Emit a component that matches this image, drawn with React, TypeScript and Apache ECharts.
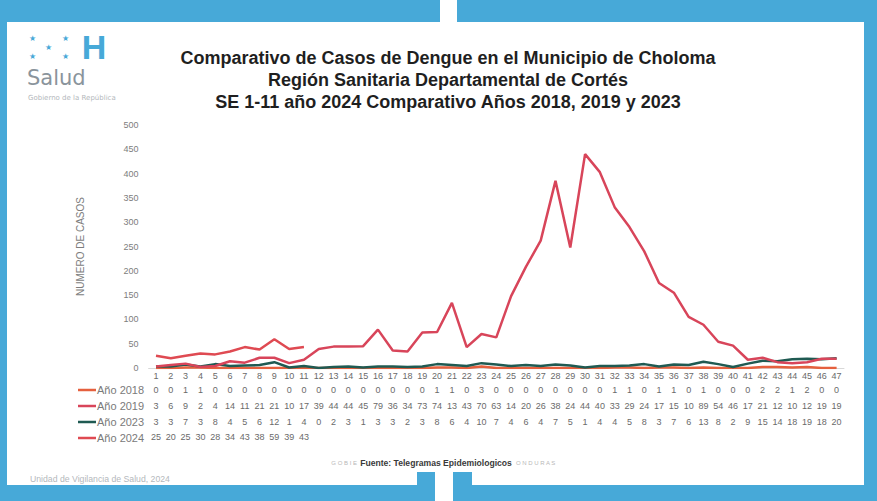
import React, { useEffect, useRef } from "react";
import * as echarts from "echarts";

const weeks = ["1","2","3","4","5","6","7","8","9","10","11","12","13","14","15","16","17","18","19","20","21","22","23","24","25","26","27","28","29","30","31","32","33","34","35","36","37","38","39","40","41","42","43","44","45","46","47"];
const seriesNames = ["Año 2018", "Año 2019", "Año 2023", "Año 2024"];
const y2018 = [0,0,1,1,0,0,0,0,0,0,0,0,0,0,0,0,0,0,0,1, 1,0,3,0,0,0,0,0,0,0,0,1,1,0,1,1,0,1,0,0,0,2,2,1,2,0,0];
const y2019 = [3,6,9,2,4,14,11,21,21,10,17,39,44,44,45,79,36,34,73,74, 134,43,70,63,148,208,262,385,248,440,403,331,290,240,175,155,105,89,54,46,17,21,12,10,12,19,19];
const y2023 = [3,3,7,3,8,4,5,6,12,1,4,0,2,3,1,3,3,2,3,8, 6,4,10,7,4,6,4,7,5,1,4,4,5,8,3,7,6,13,8,2,9,15,14,18,19,18,20];
const y2024 = [25,20,25,30,28,34,43,38,59,39,43,null,null,null,null,null,null,null,null,null,null,null,null,null,null,null,null,null,null,null,null,null,null,null,null,null,null,null,null,null,null,null,null,null,null,null,null];
const yTicks = { min: 0, max: 500, interval: 50 };
const titleLines = [
  "Comparativo de Casos de Dengue en el Municipio de Choloma",
  "Región Sanitaria Departamental de Cortés",
  "SE 1-11 año 2024 Comparativo Años 2018, 2019 y 2023",
];
const colors = ["#e5603e", "#d8455a", "#1f5a52", "#df4a52"];

const BLUE = "#47a9d8";
const GRAY = "#7a7a7a";

export default function App() {
  const ref = useRef<HTMLDivElement>(null);
  useEffect(() => {
    document.body.style.margin = "0";
    const chart = echarts.init(ref.current!, null, { renderer: "svg" });
    const allSeries = [y2018, y2019, y2023, y2024];
    const rowOffsets = [14, 30, 46, 61];
    const tableAxes = allSeries.map((arr, i) => ({
      type: "category",
      gridIndex: 0,
      position: "bottom",
      offset: rowOffsets[i],
      data: arr.map((v) => (v == null ? "" : String(v))),
      axisLine: { show: false },
      axisTick: { show: false },
      axisLabel: {
        interval: 0,
        fontSize: 9,
        color: "#6a6a6a",
        fontFamily: "Liberation Sans, Arial, sans-serif",
        margin: 3,
        overflow: "truncate",
        width: 13,
        ellipsis: "",
      },
    }));
    const star = (x: number, y: number) => ({
      type: "text", x, y,
      style: { text: "★", fontSize: 8, fill: BLUE, align: "center", verticalAlign: "middle" },
    });
    const option: any = {
      animation: false,
      backgroundColor: "#ffffff",
      grid: { left: 148.6, right: 33, top: 125, height: 243, containLabel: false },
      xAxis: [
        {
          type: "category",
          data: weeks,
          boundaryGap: true,
          axisLine: { show: true, lineStyle: { color: "#d8d8d8" } },
          axisTick: { show: false },
          axisLabel: {
            interval: 0,
            fontSize: 9,
            color: "#6a6a6a",
            fontFamily: "Liberation Sans, Arial, sans-serif",
            margin: 3,
          },
        },
        ...tableAxes,
      ],
      yAxis: {
        type: "value",
        min: yTicks.min,
        max: yTicks.max,
        interval: yTicks.interval,
        splitLine: { show: false },
        axisLine: { show: false },
        axisTick: { show: false },
        axisLabel: { fontSize: 9, color: "#7d7d7d", margin: 10, fontFamily: "Liberation Sans, Arial, sans-serif" },
        name: "NUMERO DE CASOS",
        nameLocation: "middle",
        nameGap: 63,
        nameTextStyle: { fontSize: 10, color: "#7d7d7d", fontFamily: "Liberation Sans, Arial, sans-serif" },
      },
      legend: {
        orient: "vertical",
        left: 78,
        top: 382,
        padding: 0,
        itemGap: 0,
        icon: "rect",
        itemWidth: 18,
        itemHeight: 2.5,
        textStyle: { fontSize: 11, color: GRAY, lineHeight: 16, fontFamily: "Liberation Sans, Arial, sans-serif", padding: [0, 0, 0, -4] },
        data: seriesNames,
      },
      series: allSeries.map((arr, i) => ({
        name: seriesNames[i],
        type: "line",
        data: arr,
        xAxisIndex: 0,
        showSymbol: false,
        symbol: "none",
        connectNulls: false,
        lineStyle: { width: 2.5, color: colors[i] },
        itemStyle: { color: colors[i] },
        z: [1, 3, 2, 4][i],
      })),
      graphic: [
        // frame
        { type: "rect", shape: { x: 0, y: 0, width: 440, height: 22 }, style: { fill: BLUE }, silent: true },
        { type: "rect", shape: { x: 457, y: 0, width: 420, height: 22 }, style: { fill: BLUE }, silent: true },
        { type: "rect", shape: { x: 0, y: 0, width: 7, height: 501 }, style: { fill: BLUE }, silent: true },
        { type: "rect", shape: { x: 864, y: 0, width: 13, height: 501 }, style: { fill: BLUE }, silent: true },
        { type: "rect", shape: { x: 0, y: 485, width: 435, height: 16 }, style: { fill: BLUE }, silent: true },
        { type: "rect", shape: { x: 453, y: 485, width: 424, height: 16 }, style: { fill: BLUE }, silent: true },
        { type: "rect", shape: { x: 417, y: 472, width: 18, height: 29 }, style: { fill: BLUE }, silent: true },
        { type: "rect", shape: { x: 453, y: 472, width: 19, height: 29 }, style: { fill: BLUE }, silent: true },
        // logo
        star(32, 38), star(65, 38), star(48, 47), star(32, 56), star(65, 56),
        { type: "text", x: 94, y: 47, style: { text: "H", fontSize: 34, fontWeight: "bold", fill: BLUE, align: "center", verticalAlign: "middle", fontFamily: "Liberation Sans, Arial, sans-serif" } },
        { type: "text", x: 27, y: 78, style: { text: "Salud", fontSize: 21, fill: "#8a949c", align: "left", verticalAlign: "middle", fontFamily: "DejaVu Sans, sans-serif" } },
        { type: "text", x: 28, y: 98, style: { text: "Gobierno de la República", fontSize: 7, fill: "#b4b8bc", align: "left", verticalAlign: "middle", fontFamily: "DejaVu Sans, sans-serif" } },
        // title
        ...titleLines.map((t, i) => ({
          type: "text",
          x: 448,
          y: 58 + i * 22,
          style: {
            text: t,
            fontSize: 18,
            fontWeight: "bold",
            fill: "#1f1f1f",
            align: "center",
            verticalAlign: "middle",
            fontFamily: "Liberation Sans Narrow, Arial Narrow, Liberation Sans, sans-serif",
          },
        })),
        // footer
        { type: "text", x: 357, y: 463, style: { text: "G O B I E", fontSize: 6, fill: "#b8b8b8", align: "right", verticalAlign: "middle", fontFamily: "Liberation Sans, Arial, sans-serif" } },
        { type: "text", x: 516, y: 463, style: { text: "O N D U R A S", fontSize: 6, fill: "#b8b8b8", align: "left", verticalAlign: "middle", fontFamily: "Liberation Sans, Arial, sans-serif" } },
        { type: "text", x: 436, y: 463, style: { text: "Fuente: Telegramas Epidemiologicos", fontSize: 8.6, fontWeight: "bold", fill: "#3a3a3a", align: "center", verticalAlign: "middle", fontFamily: "Liberation Sans Narrow, Liberation Sans, sans-serif" } },
        { type: "text", x: 30, y: 479, style: { text: "Unidad de Vigilancia de Salud, 2024", fontSize: 8.7, fill: "#b4b8bc", align: "left", verticalAlign: "middle", fontFamily: "Liberation Sans, Arial, sans-serif" } },
      ],
    };
    chart.setOption(option);
    return () => chart.dispose();
  }, []);
  return <div ref={ref} style={{ width: 877, height: 501 }} />;
}
